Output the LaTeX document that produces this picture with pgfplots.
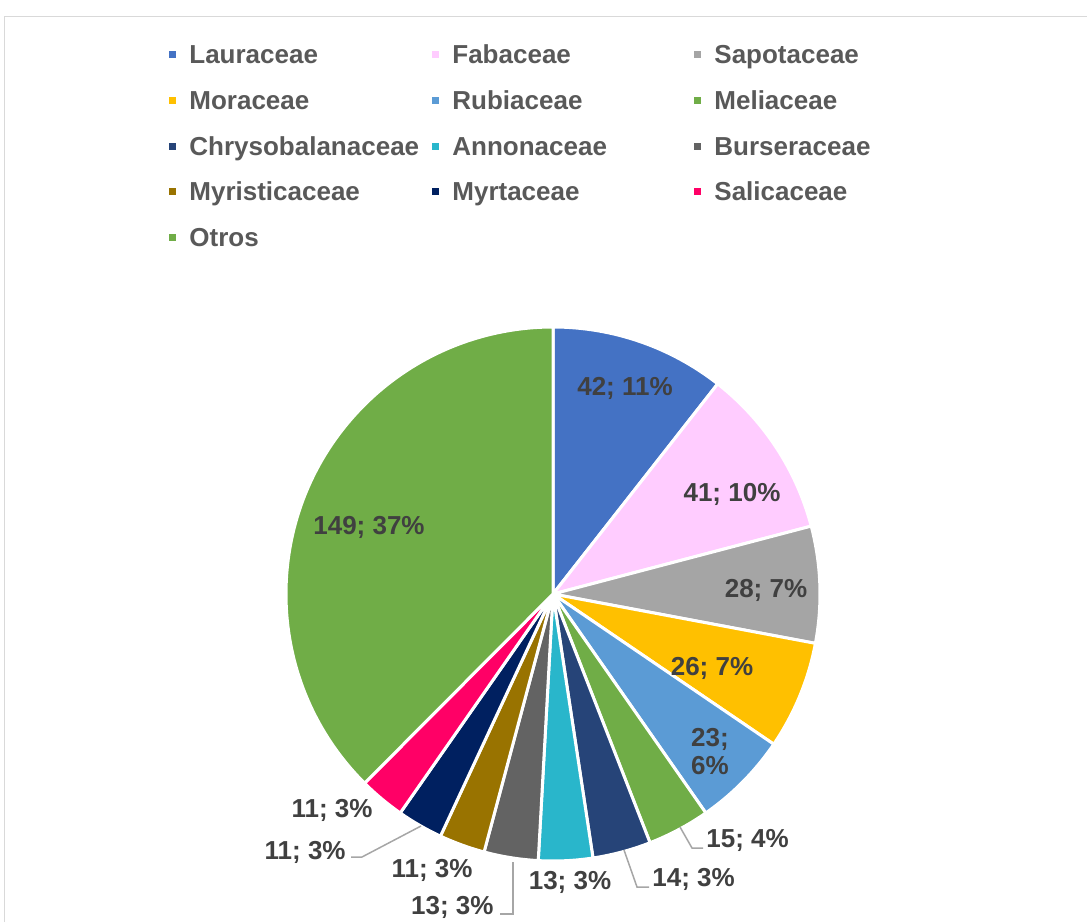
\documentclass[border=0pt]{standalone}
\usepackage{pgfplots}
\pgfplotsset{compat=1.18}
\usepackage{fontspec}
\setmainfont{Liberation Sans}

\definecolor{cLaur}{HTML}{4472C4}
\definecolor{cFaba}{HTML}{FFCCFF}
\definecolor{cSapo}{HTML}{A5A5A5}
\definecolor{cMora}{HTML}{FFC000}
\definecolor{cRubi}{HTML}{5B9BD5}
\definecolor{cMeli}{HTML}{70AD47}
\definecolor{cChry}{HTML}{264478}
\definecolor{cAnno}{HTML}{29B6CB}
\definecolor{cBurs}{HTML}{636363}
\definecolor{cMyri}{HTML}{997300}
\definecolor{cMyrt}{HTML}{002060}
\definecolor{cSali}{HTML}{FF0066}
\definecolor{cOtro}{HTML}{70AD47}
\definecolor{lbl}{HTML}{404040}
\definecolor{leg}{HTML}{595959}
\definecolor{frame}{HTML}{D9D9D9}
\definecolor{leader}{HTML}{A6A6A6}

\tikzset{
  bigtext/.style={font=\fontsize{13}{15.6}\selectfont\bfseries, inner sep=0pt},
}

% pie: total of all values, running sum
\newcommand\total{397}
\newcommand\cum{0}
\newcommand\pieslice[2]{%
  \pgfplotsextra{%
    \pgfmathsetmacro\sa{90-\cum/\total*360}%
    \pgfmathsetmacro\ea{90-(\cum+#1)/\total*360}%
    \fill[fill=#2, draw=white, line width=1.5pt, line join=round]
      (axis cs:553,594) -- ++(\sa:133.5pt)
      arc[start angle=\sa, end angle=\ea, radius=133.5pt] -- cycle;%
    \pgfmathsetmacro\newcum{\cum+#1}%
    \global\let\cum\newcum
  }%
}
\newcommand\legitem[4]{% x, baseline y, colour, name
  \fill[#3] (axis cs:#1-20,#2-12.5) rectangle (axis cs:#1-13,#2-5.5);
  \node[bigtext, anchor=base west, text=leg] at (axis cs:#1,#2) {#4};
}

\begin{document}
\begin{tikzpicture}
\begin{axis}[
    width=543.5pt, height=461pt, scale only axis,
    xmin=0, xmax=1087, ymin=0, ymax=922, y dir=reverse,
    hide axis, clip=false,
]
\coordinate (tl) at (axis cs:0,0);
\coordinate (br) at (axis cs:1087,922);
\draw[frame, line width=0.75pt] (axis cs:4.5,922) -- (axis cs:4.5,16.5) -- (axis cs:1087,16.5);

\pieslice{42}{cLaur}
\pieslice{41}{cFaba}
\pieslice{28}{cSapo}
\pieslice{26}{cMora}
\pieslice{23}{cRubi}
\pieslice{15}{cMeli}
\pieslice{14}{cChry}
\pieslice{13}{cAnno}
\pieslice{13}{cBurs}
\pieslice{11}{cMyri}
\pieslice{11}{cMyrt}
\pieslice{11}{cSali}
\pieslice{149}{cOtro}

% legend
\legitem{189}{63}{cLaur}{Lauraceae}
\legitem{452}{63}{cFaba}{Fabaceae}
\legitem{714}{63}{cSapo}{Sapotaceae}
\legitem{189}{109}{cMora}{Moraceae}
\legitem{452}{109}{cRubi}{Rubiaceae}
\legitem{714}{109}{cMeli}{Meliaceae}
\legitem{189}{155}{cChry}{Chrysobalanaceae}
\legitem{452}{155}{cAnno}{Annonaceae}
\legitem{714}{155}{cBurs}{Burseraceae}
\legitem{189}{200}{cMyri}{Myristicaceae}
\legitem{452}{200}{cMyrt}{Myrtaceae}
\legitem{714}{200}{cSali}{Salicaceae}
\legitem{189}{246}{cOtro}{Otros}

% data labels
\node[bigtext, text=lbl] at (axis cs:625,388) {42; 11\%};
\node[bigtext, text=lbl] at (axis cs:732,494) {41; 10\%};
\node[bigtext, text=lbl] at (axis cs:766,590) {28; 7\%};
\node[bigtext, text=lbl] at (axis cs:712,668) {26; 7\%};
\node[bigtext, text=lbl, align=center, font=\fontsize{13}{14}\selectfont\bfseries] at (axis cs:710,752) {23;\\6\%};
\node[bigtext, text=lbl, anchor=west] at (axis cs:706,840) {15; 4\%};
\node[bigtext, text=lbl, anchor=west] at (axis cs:652,879) {14; 3\%};
\node[bigtext, text=lbl] at (axis cs:570,882) {13; 3\%};
\node[bigtext, text=lbl, anchor=east] at (axis cs:494,907) {13; 3\%};
\node[bigtext, text=lbl] at (axis cs:432,870) {11; 3\%};
\node[bigtext, text=lbl, anchor=east] at (axis cs:346,852) {11; 3\%};
\node[bigtext, text=lbl] at (axis cs:332,810) {11; 3\%};
\node[bigtext, text=lbl] at (axis cs:369,527) {149; 37\%};

% leader lines
\draw[leader, line width=0.75pt] (axis cs:680,827) -- (axis cs:692,848) -- (axis cs:703,848);
\draw[leader, line width=0.75pt] (axis cs:624,850) -- (axis cs:637,887) -- (axis cs:649,887);
\draw[leader, line width=0.75pt] (axis cs:513,862) -- (axis cs:513,914) -- (axis cs:500,914);
\draw[leader, line width=0.75pt] (axis cs:421,826) -- (axis cs:362,857) -- (axis cs:351,857);
\end{axis}
\pgfresetboundingbox
\path[use as bounding box] (tl) rectangle (br);
\end{tikzpicture}
\end{document}
